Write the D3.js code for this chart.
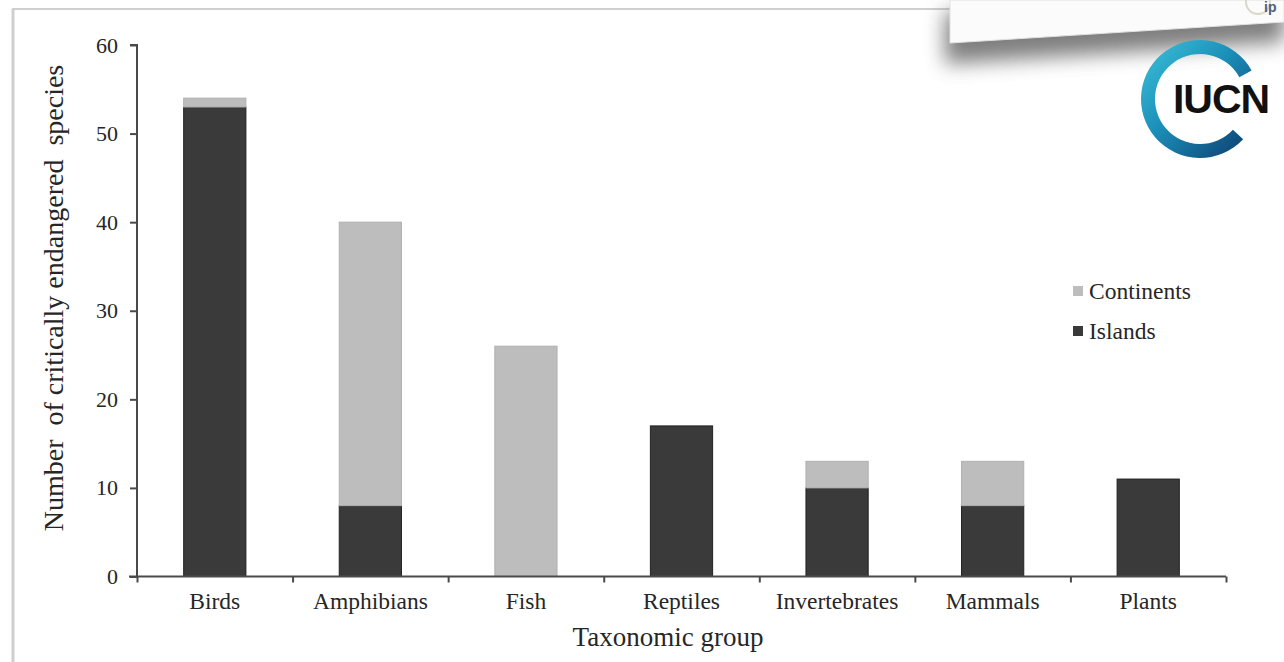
<!DOCTYPE html>
<html>
<head>
<meta charset="utf-8">
<title>Critically endangered species by taxonomic group</title>
<script src="https://d3js.org/d3.v7.min.js"></script>
<style>
  body { margin: 0; background: #fff; }
  svg text { font-family: "Liberation Serif", "Times New Roman", serif; fill: #262626; }
</style>
</head>
<body>
<svg width="1284" height="662"></svg>
<script>
// values
var categories = ["Birds", "Amphibians", "Fish", "Reptiles", "Invertebrates", "Mammals", "Plants"];
var islands    = [53, 8, 0, 17, 10, 8, 11];
var continents = [1, 32, 26, 0, 3, 5, 0];
var yTicks     = [0, 10, 20, 30, 40, 50, 60];
var seriesNames = ["Continents", "Islands"];

var colors = { islands: "#3a3a3a", continents: "#bdbdbd" };
var serif = "Liberation Serif, Times New Roman, serif";

var svg = d3.select("svg");
// plot edges (not "top": that name belongs to window)
var plotLeft = 137, plotRight = 1226, plotTop = 45, plotBottom = 576.5;

// frame of the screenshot
svg.append("line").attr("x1", 13).attr("x2", 13).attr("y1", 9).attr("y2", 662)
  .attr("stroke", "#cfcfcf").attr("stroke-width", 3);
svg.append("line").attr("x1", 12).attr("x2", 960).attr("y1", 9).attr("y2", 9)
  .attr("stroke", "#cfcfcf").attr("stroke-width", 2);

var table = categories.map(function(c, i) {
  return { cat: c, islands: islands[i], continents: continents[i] };
});

var x = d3.scaleBand().domain(categories).range([plotLeft, plotRight])
  .paddingInner(0.6).paddingOuter(0.3);
var xEdge = d3.scaleLinear().domain([0, categories.length]).range([plotLeft, plotRight]);
var y = d3.scaleLinear().domain([0, 60]).range([plotBottom, plotTop]);

var stack = d3.stack().keys(["islands", "continents"]);
var layers = stack(table);

svg.selectAll(".series")
  .data(layers)
  .enter().append("g")
  .attr("class", "series")
  .attr("fill", function(d) { return colors[d.key]; })
  .attr("stroke", function(d) { return d.key == "islands" ? "#222" : "#b0b0b0"; })
  .selectAll("rect")
  .data(function(d) { return d.filter(function(p) { return p[1] > p[0]; }); })
  .enter().append("rect")
  .attr("x", function(d) { return x(d.data.cat); })
  .attr("y", function(d) { return y(d[1]); })
  .attr("width", x.bandwidth())
  .attr("height", function(d) { return y(d[0]) - y(d[1]); });

// y axis
var yAxis = svg.append("g")
  .attr("transform", "translate(" + plotLeft + ",0)")
  .call(d3.axisLeft(y).tickValues(yTicks).tickSize(7).tickPadding(12));
yAxis.select(".domain").attr("d", "M-7," + plotTop + "H0V" + plotBottom);

// x axis: boundary ticks plus centred labels
var xAxis = svg.append("g")
  .attr("transform", "translate(0," + plotBottom + ")")
  .call(d3.axisBottom(xEdge).tickValues(d3.range(0, categories.length + 1)).tickSize(6).tickFormat(""));
xAxis.select(".domain").attr("d", "M" + (plotLeft - 8) + ",0H" + plotRight);

var xLabels = svg.append("g")
  .attr("transform", "translate(0," + plotBottom + ")")
  .call(d3.axisBottom(x).tickSize(0).tickPadding(16));
xLabels.select(".domain").remove();

svg.selectAll(".domain, .tick line").attr("stroke", "#4a4a4a").attr("stroke-width", 2);
yAxis.selectAll(".tick text").attr("font-size", 22);
xLabels.selectAll(".tick text").attr("font-size", 23.5);
svg.selectAll(".tick text").attr("fill", "#262626").attr("font-family", serif);

// axis titles
svg.append("text")
  .attr("x", 668).attr("y", 646)
  .attr("text-anchor", "middle")
  .attr("font-family", serif)
  .attr("font-size", 27)
  .text("Taxonomic group");

svg.append("text")
  .attr("transform", "translate(63,298) rotate(-90)")
  .attr("text-anchor", "middle")
  .attr("font-family", serif)
  .attr("font-size", 28)
  .style("white-space", "pre")
  .text("Number  of critically endangered  species");

// legend
var legend = svg.selectAll(".legend")
  .data(seriesNames)
  .enter().append("g")
  .attr("class", "legend")
  .attr("transform", function(d, i) { return "translate(1073," + (291 + i * 40) + ")"; });
legend.append("rect")
  .attr("x", 0).attr("y", -5).attr("width", 10).attr("height", 10)
  .attr("fill", function(d) { return d == "Islands" ? colors.islands : colors.continents; });
legend.append("text")
  .attr("x", 16).attr("y", 8)
  .attr("font-family", serif)
  .attr("font-size", 23.5)
  .text(function(d) { return d; });

// pasted card with shadow in the corner
var defs = svg.append("defs");
defs.append("filter").attr("id", "shadow").attr("x", "-20%").attr("y", "-50%").attr("width", "140%").attr("height", "250%")
  .append("feGaussianBlur").attr("stdDeviation", 10);
var ring = defs.append("linearGradient").attr("id", "ring").attr("x1", "0").attr("y1", "0").attr("x2", "1").attr("y2", "1");
ring.append("stop").attr("offset", "0").attr("stop-color", "#3ec3da");
ring.append("stop").attr("offset", "0.45").attr("stop-color", "#1b8fb8");
ring.append("stop").attr("offset", "1").attr("stop-color", "#0d3a6e");

svg.append("path")
  .attr("d", "M945,12 L1284,2 L1284,42 L945,64 Z")
  .attr("fill", "#5e5e5e").attr("opacity", 0.8)
  .attr("filter", "url(#shadow)");
svg.append("path")
  .attr("d", "M950,0 L1284,0 L1284,22 L950,43 Z")
  .attr("fill", "#fbfbfb").attr("stroke", "#e2e2e2");
svg.append("circle").attr("cx", 1258).attr("cy", 2).attr("r", 12)
  .attr("fill", "none").attr("stroke", "#d8d8c8").attr("stroke-width", 2);
svg.append("text").attr("x", 1264).attr("y", 12)
  .attr("font-size", 14).attr("font-weight", "bold")
  .style("font-family", "Liberation Sans, sans-serif").style("fill", "#50607a")
  .text("ip");

// IUCN logo
var arc = d3.arc().innerRadius(45).outerRadius(59)
  .startAngle(61 * Math.PI / 180).endAngle(-227 * Math.PI / 180);
svg.append("path")
  .attr("transform", "translate(1200,99)")
  .attr("d", arc())
  .attr("fill", "url(#ring)");
svg.append("text")
  .attr("x", 1221).attr("y", 113)
  .attr("text-anchor", "middle")
  .attr("font-size", 41).attr("font-weight", "bold")
  .attr("letter-spacing", -1)
  .style("font-family", "Liberation Sans, Arial, sans-serif").style("fill", "#111")
  .text("IUCN");
</script>
</body>
</html>
